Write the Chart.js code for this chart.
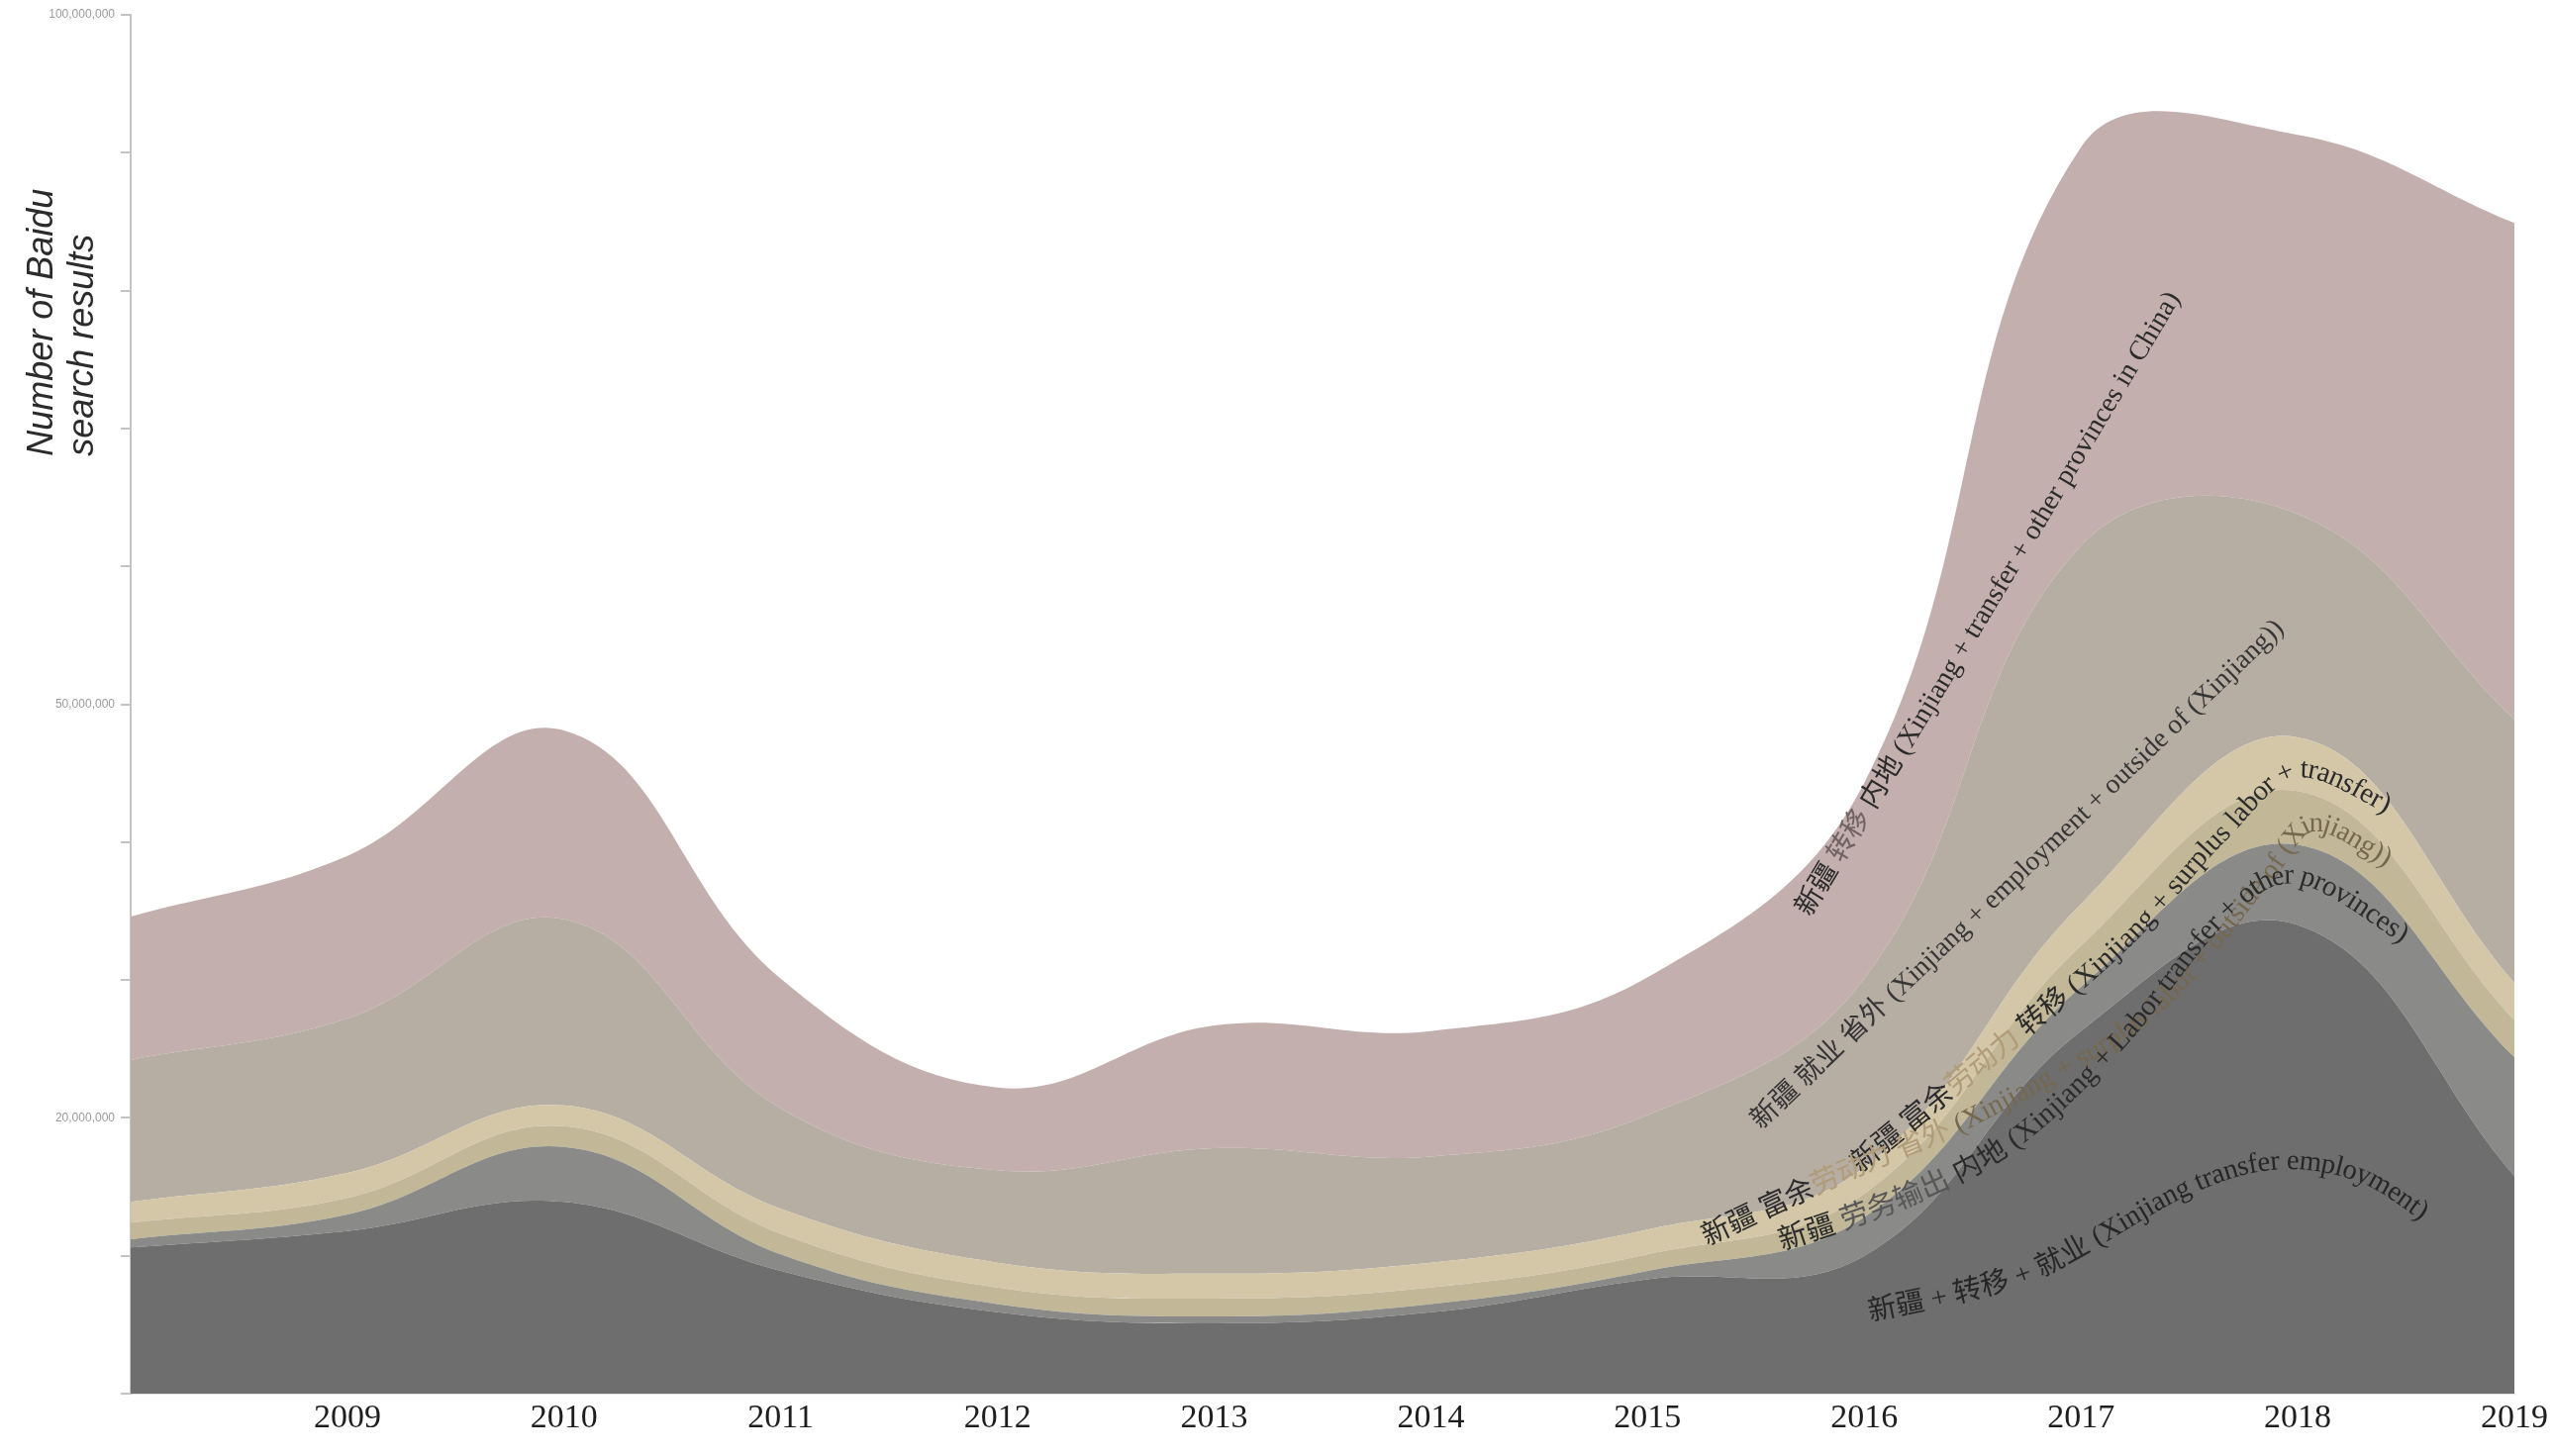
<!DOCTYPE html>
<html>
<head>
<meta charset="utf-8">
<script src="https://cdn.jsdelivr.net/npm/chart.js@4.4.1/dist/chart.umd.min.js"></script>
<style>
  html, body { margin: 0; padding: 0; background: #fff; }
  #wrap { width: 2579px; height: 1471px; position: relative; }
</style>
</head>
<body>
<div id="wrap"><canvas id="grafico"></canvas></div>
<script>
// years on the x axis
const years = ["2008", "2009", "2010", "2011", "2012", "2013", "2014", "2015", "2016", "2017", "2018", "2019"];

// search results per query, millions (stacked bottom to top)
const transferEmployment = [10.6, 11.8, 13.9, 8.9, 5.9, 5.1, 5.9, 8.3, 10.0, 26.3, 34.0, 15.8];
const labourExportInland = [0.6, 1.2, 4.0, 1.2, 0.6, 0.5, 0.6, 0.6, 2.8, 3.2, 5.8, 8.6];
const surplusOutside = [1.2, 1.2, 1.5, 1.5, 1.2, 1.3, 1.2, 1.2, 1.7, 3.0, 3.9, 2.7];
const surplusTransfer = [1.5, 1.8, 1.5, 1.8, 1.8, 1.8, 1.8, 1.8, 1.9, 3.0, 3.9, 2.7];
const employmentOutside = [10.3, 11.2, 13.5, 7.3, 6.7, 9.1, 7.7, 8.3, 13.7, 26.0, 16.2, 19.1];
const transferInland = [10.4, 11.8, 13.7, 9.4, 6.0, 8.9, 9.1, 10.0, 14.2, 28.9, 27.5, 36.0];

// y ticks (millions) that carry a label
const labelledTicks = [20, 50, 100];

const dark = "#2b2b2b";
const tan = "#b09c78";

// in-chart labels: text pieces and the path they follow (year, millions)
const seriesLabels = [
  {
    parts: [["新疆 ", dark], ["转移", "#6f6262"], [" 内地 (Xinjiang + transfer + other provinces in China)", dark]],
    path: [[2015.72, 34.8], [2016.58, 57.3], [2017.43, 79.7]],
  },
  {
    parts: [["新疆 就业 省外 (Xinjiang + employment + outside of (Xinjiang))", "#353535"]],
    path: [[2015.50, 19.5], [2016.72, 37.7], [2017.92, 55.8]],
  },
  {
    parts: [["新疆 富余", dark], ["劳动力", tan], [" 转移 (Xinjiang + surplus labor + transfer)", dark]],
    path: [[2015.96, 16.4], [2017.10, 31.3], [2017.62, 40.1], [2017.99, 45.2], [2018.42, 42.6]],
  },
  {
    parts: [["新疆 富余", dark], ["劳动力 省外", tan], [" (Xinjiang + surplus labor + outside of (Xinjiang))", "#76684f"]],
    path: [[2015.26, 11.2], [2015.90, 15.9], [2016.54, 20.3], [2017.32, 27.7], [2017.84, 37.2], [2018.07, 41.3], [2018.42, 38.7]],
  },
  {
    parts: [["新疆 ", dark], ["劳务输出", "#575757"], [" 内地 (Xinjiang + Labor transfer + other provinces)", dark]],
    path: [[2015.61, 10.9], [2016.20, 14.2], [2016.69, 18.3], [2017.17, 25.4], [2017.66, 34.8], [2018.01, 37.5], [2018.50, 33.1]],
  },
  {
    parts: [["新疆 + 转移 + 就业 (Xinjiang transfer employment)", "#262626"]],
    path: [[2016.02, 5.8], [2016.76, 8.7], [2017.47, 14.8], [2017.90, 16.8], [2018.29, 15.9], [2018.59, 13.0]],
  },
];

function area(label, data, color, fill) {
  return {
    label: label,
    data: data,
    backgroundColor: color,
    borderWidth: 0,
    pointRadius: 0,
    fill: fill,
    tension: 0.4,
  };
}

// smooth a handful of points
function catmull(pts, steps) {
  const out = [];
  for (let i = 0; i < pts.length - 1; i++) {
    const p0 = pts[Math.max(i - 1, 0)], p1 = pts[i], p2 = pts[i + 1], p3 = pts[Math.min(i + 2, pts.length - 1)];
    for (let s = 0; s < steps; s++) {
      const t = s / steps, t2 = t * t, t3 = t2 * t;
      const f = (a, b, c, d) =>
        0.5 * (2 * b + (-a + c) * t + (2 * a - 5 * b + 4 * c - d) * t2 + (-a + 3 * b - 3 * c + d) * t3);
      out.push({ x: f(p0.x, p1.x, p2.x, p3.x), y: f(p0.y, p1.y, p2.y, p3.y) });
    }
  }
  out.push(pts[pts.length - 1]);
  return out;
}

function textOnPath(ctx, parts, path, family) {
  const cum = [0];
  for (let i = 1; i < path.length; i++) {
    cum.push(cum[i - 1] + Math.hypot(path[i].x - path[i - 1].x, path[i].y - path[i - 1].y));
  }
  const total = cum[cum.length - 1];

  function pointAt(d) {
    d = Math.max(0, Math.min(total, d));
    let k = 0;
    while (k < cum.length - 2 && cum[k + 1] < d) k++;
    const seg = cum[k + 1] - cum[k] || 1;
    const t = (d - cum[k]) / seg;
    return {
      x: path[k].x + (path[k + 1].x - path[k].x) * t,
      y: path[k].y + (path[k + 1].y - path[k].y) * t,
    };
  }

  const full = parts.map((p) => p[0]).join("");
  ctx.font = "100px " + family;
  let w = 0;
  for (const ch of full) w += ctx.measureText(ch).width;
  const size = (100 * total) / w;
  ctx.font = size.toFixed(1) + "px " + family;
  ctx.textBaseline = "middle";
  ctx.textAlign = "left";

  let d = 0;
  for (const [txt, color] of parts) {
    ctx.fillStyle = color;
    for (const ch of txt) {
      const cw = ctx.measureText(ch).width;
      const mid = d + cw / 2;
      const p = pointAt(mid);
      const a = pointAt(mid - 6), b = pointAt(mid + 6);
      ctx.save();
      ctx.translate(p.x, p.y);
      ctx.rotate(Math.atan2(b.y - a.y, b.x - a.x));
      ctx.fillText(ch, -cw / 2, 0);
      ctx.restore();
      d += cw;
    }
  }
}

const labelPlugin = {
  id: "seriesLabels",
  afterDatasetsDraw(chart) {
    const { ctx, scales } = chart;
    const x0 = scales.x.getPixelForValue(0);
    const step = scales.x.getPixelForValue(1) - x0;
    ctx.save();
    seriesLabels.forEach((lab) => {
      const pts = lab.path.map(([yr, v]) => ({
        x: x0 + (yr - 2008) * step,
        y: scales.y.getPixelForValue(v),
      }));
      textOnPath(ctx, lab.parts, catmull(pts, 20), '"Liberation Serif", "Noto Sans CJK SC", serif');
    });
    ctx.restore();
  },
};

const axisTitlePlugin = {
  id: "axisTitle",
  afterDraw(chart) {
    const ctx = chart.ctx;
    const y = chart.scales.y.getPixelForValue(68);
    ctx.save();
    ctx.translate(0, y);
    ctx.rotate(-Math.PI / 2);
    ctx.font = 'italic 36px "Liberation Sans", Arial, sans-serif';
    ctx.fillStyle = "#2b2b2b";
    ctx.textAlign = "left";
    ctx.textBaseline = "middle";
    ctx.fillText("Number of Baidu", 0, 43);
    ctx.fillText("search results", 0, 84);
    ctx.restore();
  },
};

new Chart(document.getElementById("grafico"), {
  type: "line",
  data: {
    labels: years,
    datasets: [
      area("新疆 + 转移 + 就业", transferEmployment, "#6e6e6e", "origin"),
      area("新疆 劳务输出 内地", labourExportInland, "#8a8b89", "-1"),
      area("新疆 富余劳动力 省外", surplusOutside, "#c2b898", "-1"),
      area("新疆 富余劳动力 转移", surplusTransfer, "#d4c7a7", "-1"),
      area("新疆 就业 省外", employmentOutside, "#b6ada3", "-1"),
      area("新疆 转移 内地", transferInland, "#c3afad", "-1"),
    ],
  },
  options: {
    responsive: true,
    maintainAspectRatio: false,
    animation: false,
    devicePixelRatio: 1,
    layout: { padding: { top: 15, right: 21, left: 0, bottom: 0 } },
    plugins: {
      legend: { display: false },
      tooltip: { enabled: false },
    },
    scales: {
      x: {
        offset: false,
        grid: { display: false, drawTicks: false },
        border: { display: true, color: "#e2e2e2", width: 2 },
        ticks: {
          autoSkip: false,
          maxRotation: 0,
          padding: 5,
          color: "#1e1e1e",
          font: { family: '"Liberation Serif", serif', size: 34 },
          callback: (v, i) => (i === 0 ? "" : years[i]),
        },
        afterFit: (scale) => {
          scale.height = 63;
        },
      },
      y: {
        stacked: true,
        min: 0,
        max: 100,
        grid: { drawOnChartArea: false, drawTicks: true, tickLength: 10, color: "#c4c4c4", lineWidth: 2 },
        border: { display: true, color: "#c4c4c4", width: 2 },
        ticks: {
          stepSize: 10,
          padding: 6,
          color: "#9a9a9a",
          font: { family: '"Liberation Sans", Arial, sans-serif', size: 12 },
          callback: (v) => (labelledTicks.includes(v) ? (v * 1e6).toLocaleString("en-US") : ""),
        },
        afterFit: (scale) => {
          scale.width = 132;
        },
      },
    },
  },
  plugins: [labelPlugin, axisTitlePlugin],
});
</script>
</body>
</html>
